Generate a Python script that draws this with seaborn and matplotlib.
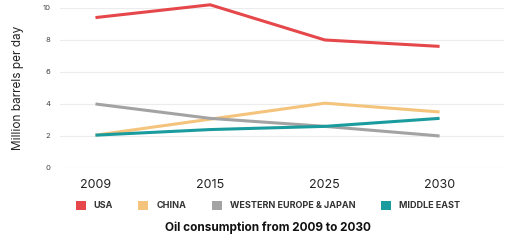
import matplotlib
matplotlib.use("Agg")
import matplotlib.pyplot as plt
from matplotlib.patches import Patch
import pandas as pd
import seaborn as sns

years = ["2009", "2015", "2025", "2030"]
usa = [9.4, 10.2, 8.0, 7.6]
china = [2.05, 3.05, 4.05, 3.5]
west_europe_japan = [4.0, 3.1, 2.6, 2.0]
middle_east = [2.05, 2.4, 2.6, 3.1]
series_names = ["USA", "CHINA", "WESTERN EUROPE & JAPAN", "MIDDLE EAST"]
colors = ["#e5474a", "#f4c47c", "#a3a3a3", "#1a9c9e"]

rows = []
for name, vals in zip(series_names, [usa, china, west_europe_japan, middle_east]):
    for y, v in zip(years, vals):
        rows.append({"year": y, "value": v, "series": name})
df = pd.DataFrame(rows)

sns.set_style("white")
plt.rcParams['font.family'] = ['Inter', 'DejaVu Sans']

fig = plt.figure(figsize=(5.12, 2.42), dpi=100)
ax = fig.add_axes([0.117, 0.306, 0.867, 0.661])

sns.lineplot(data=df, x="year", y="value", hue="series", palette=colors,
             hue_order=series_names, linewidth=2.2, ax=ax, legend=False,
             sort=False)
for line in ax.lines:
    line.set_clip_on(False)
    line.set_solid_capstyle("butt")

ax.set_ylim(0, 10)
ax.set_xlim(-0.31, 3.56)
ax.set_yticks([0, 2, 4, 6, 8, 10])
ax.grid(axis="y", color="#ececec", linewidth=0.8)
ax.set_axisbelow(True)
sns.despine(ax=ax, left=True, bottom=True)
ax.tick_params(axis="y", labelsize=5.5, labelcolor="#444444", length=0, pad=7)
ax.tick_params(axis="x", labelsize=9, labelcolor="#222222", length=0, pad=8)
ax.set_xlabel("")
ax.set_ylabel("Million barrels per day", fontsize=8.5, color="#222222", labelpad=13)

handles = [Patch(facecolor=c, edgecolor="none") for c in colors]
fig.legend(handles, series_names, loc="center", bbox_to_anchor=(0.523, 0.15),
           ncol=4, frameon=False, handlelength=1.1, handleheight=1.1,
           columnspacing=2.8, handletextpad=0.9,
           prop={"weight": "bold", "size": 6.5})
for t in fig.legends[0].get_texts():
    t.set_color("#333333")

fig.text(0.523, 0.058, "Oil consumption from 2009 to 2030", ha="center", va="center",
         fontsize=8.5, fontweight="bold", color="#111111")

fig.savefig("out.png", dpi=100)
